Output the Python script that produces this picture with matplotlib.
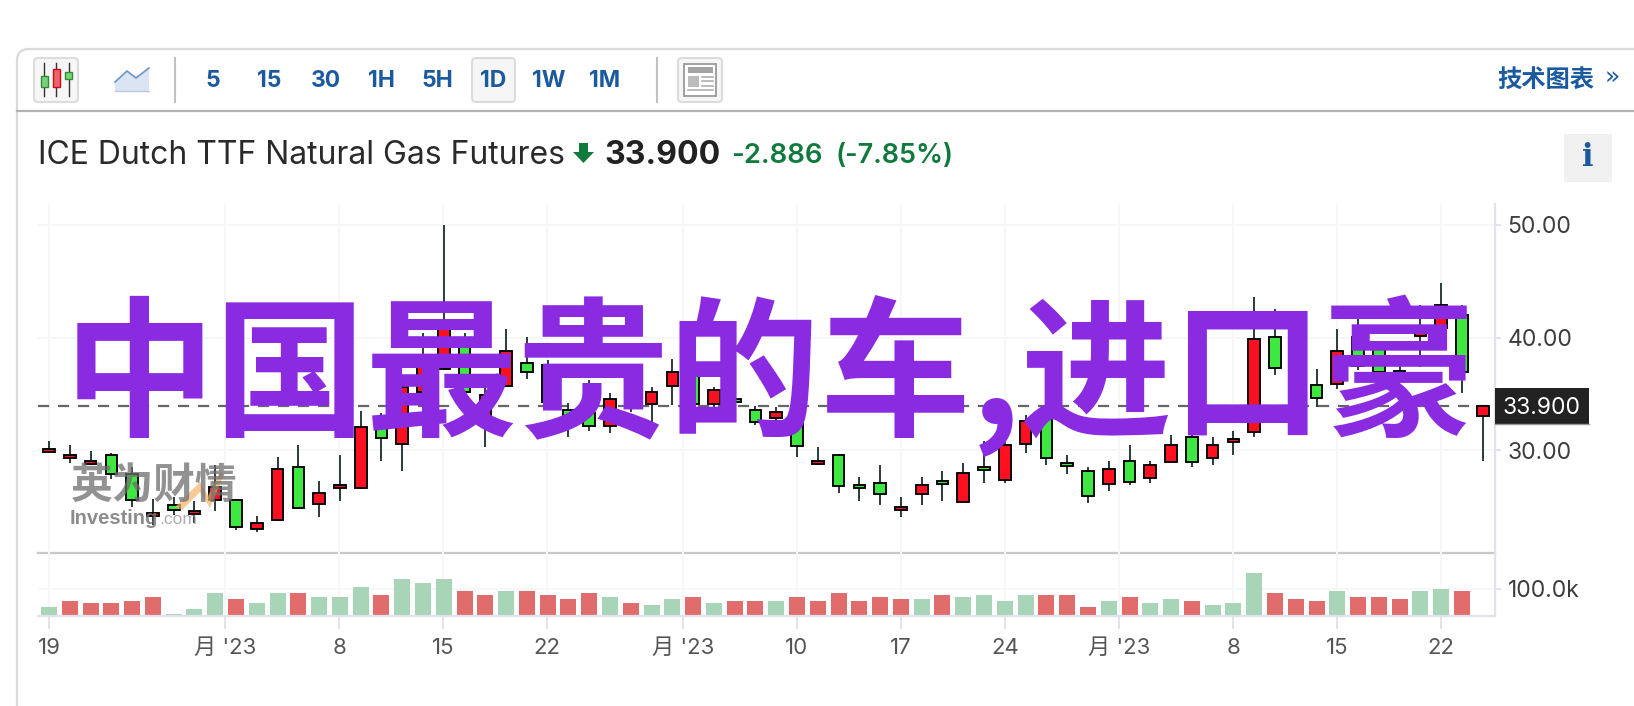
import matplotlib
matplotlib.use('Agg')
import matplotlib.pyplot as plt
from matplotlib.patches import FancyBboxPatch, Rectangle, Polygon

plt.rcParams['font.family'] = ['Inter', 'Noto Sans CJK SC', 'DejaVu Sans']

W, H = 1634, 706

# daily candles (red closes above open, green below)
highs = [30.83, 30.47, 29.94, 29.73, 28.52, 25.68, 25.86, 25.50, 28.70, 25.71,
         24.17, 29.41, 30.47, 27.28, 29.59, 33.49, 33.31, 36.69, 40.38, 50.00,
         40.38, 35.65, 40.77, 40.06, 38.02, 34.20, 36.24, 35.06, 35.65, 35.59,
         38.11, 37.72, 35.59, 34.76, 33.93, 33.82, 33.28, 30.27, 29.67, 27.60,
         28.67, 25.83, 27.60, 28.14, 28.85, 30.80, 31.51, 33.11, 33.28, 29.56,
         28.49, 29.02, 30.44, 29.02, 31.33, 31.51, 31.15, 31.69, 43.61, 42.54,
         39.79, 37.22, 40.77, 42.69, 39.50, 38.46, 42.90, 44.82, 42.90, 33.99]
lows = [29.73, 28.91, 28.67, 27.49, 25.00, 23.37, 24.26, 23.52, 24.64, 22.93,
        22.75, 23.76, 24.76, 24.11, 25.53, 26.54, 29.08, 28.20, 32.99, 37.13,
        34.76, 30.33, 35.59, 36.36, 34.17, 31.21, 31.75, 31.57, 33.40, 32.40,
        34.02, 34.02, 33.52, 34.11, 32.25, 32.46, 29.44, 28.67, 26.24, 25.53,
        25.18, 24.11, 25.18, 25.53, 25.30, 27.13, 27.13, 29.79, 28.73, 27.87,
        25.36, 26.42, 26.95, 27.13, 28.85, 28.55, 28.73, 29.62, 31.21, 36.72,
        35.06, 33.88, 35.47, 37.13, 36.83, 36.24, 37.43, 40.74, 35.12, 29.08]
opens = [29.82, 29.29, 28.76, 29.56, 27.93, 24.14, 25.12, 24.32, 25.56, 25.62,
         23.02, 23.85, 28.49, 25.21, 26.63, 26.63, 32.93, 30.53, 35.15, 37.22,
         39.20, 33.02, 35.68, 37.72, 37.54, 33.61, 33.28, 32.13, 33.73, 34.11,
         35.68, 37.54, 34.11, 34.53, 33.61, 32.84, 32.90, 28.76, 29.56, 26.89,
         27.07, 24.67, 26.09, 27.25, 25.38, 28.49, 27.34, 30.53, 32.75, 28.85,
         28.14, 26.98, 29.02, 27.51, 28.93, 31.15, 29.29, 30.71, 31.60, 40.03,
         38.22, 35.77, 35.86, 40.03, 38.96, 37.04, 40.12, 40.83, 41.98, 33.02]
closes = [30.09, 29.56, 29.02, 27.87, 25.56, 24.41, 24.67, 24.59, 26.72, 23.20,
          23.55, 28.31, 24.85, 26.18, 26.89, 32.04, 31.07, 35.65, 38.25, 40.83,
          35.15, 34.88, 38.79, 36.92, 34.26, 32.19, 32.13, 34.53, 35.21, 35.21,
          36.98, 34.11, 35.38, 34.26, 32.49, 33.43, 30.36, 29.02, 26.80, 26.63,
          26.09, 24.94, 26.89, 26.98, 27.96, 28.22, 30.44, 32.57, 29.29, 28.58,
          25.92, 28.31, 27.16, 28.67, 30.44, 28.93, 30.44, 30.98, 39.85, 37.28,
          36.09, 34.62, 38.79, 37.51, 36.92, 36.63, 40.53, 42.87, 36.92, 33.90]

# volume in thousands, one fewer than the candles
volumes = [33, 55, 48, 48, 55, 70, 8, 26, 84, 62, 48, 84, 84, 70, 70, 106, 77,
           135, 121, 135, 91, 77, 91, 91, 77, 62, 84, 70, 48, 40, 62, 70, 48,
           55, 55, 55, 70, 55, 84, 55, 70, 62, 62, 77, 70, 77, 55, 77, 77, 77,
           33, 55, 70, 48, 62, 55, 40, 48, 157, 84, 62, 55, 91, 70, 70, 62, 91,
           99, 91]
volume_up = [0, 1, 1, 1, 1, 1, 0, 0, 0, 1, 0, 0, 1, 0, 0, 0, 1, 0, 0, 0, 1, 1,
             0, 1, 1, 1, 1, 0, 1, 0, 0, 1, 0, 1, 1, 0, 1, 1, 1, 1, 1, 1, 0, 1,
             0, 0, 0, 0, 1, 1, 1, 0, 1, 0, 0, 1, 0, 0, 0, 1, 1, 1, 0, 1, 1, 1,
             0, 0, 1]

price_ticks = [30, 40, 50]
last_price = 33.9
date_ticks = [0, 8.47, 13.96, 18.96, 23.97, 30.5, 36, 41, 46, 51.5, 57, 62, 67]
date_labels = ['19', "月 '23", '8', '15', '22', "月 '23", '10', '17', '24',
               "月 '23", '8', '15', '22']
intervals = ['5', '15', '30', '1H', '5H', '1D', '1W', '1M']

BLUE = '#1c5aa0'
RED = '#ff1020'
GREEN = '#3fe840'
UP_VOL = '#e06c6c'
DOWN_VOL = '#a8d5b8'
GRID = '#f6f7f9'
AXIS = '#e0e3eb'


def px_axes(fig, zorder):
    # axes spanning the whole figure in image pixels, y going down
    ax = fig.add_axes([0, 0, 1, 1], zorder=zorder)
    ax.set_xlim(0, W)
    ax.set_ylim(H, 0)
    ax.axis('off')
    ax.patch.set_alpha(0)
    return ax


def sub_axes(fig, left, top, right, bottom):
    return fig.add_axes([left / W, 1 - bottom / H, (right - left) / W, (bottom - top) / H], zorder=1)


def draw_toolbar(bg):
    bg.add_patch(FancyBboxPatch((17, 49), W + 40, H + 40, boxstyle='round,pad=0,rounding_size=12',
                                fc='white', ec='#dadada', lw=1.6))
    bg.plot([17, W], [111, 111], color='#b2b2b2', lw=1.6)
    for x in [175, 657]:
        bg.plot([x, x], [58, 102], color='#c0c0c0', lw=1.5)

    # pressed buttons
    for x0, x1 in [(34, 78), (472, 515), (678, 722)]:
        bg.add_patch(FancyBboxPatch((x0, 58), x1 - x0, 44, boxstyle='round,pad=0,rounding_size=4',
                                    fc='#f6f6f6', ec='#dcdcdc', lw=1.5))

    # candle icon
    for x, y0, y1, c, e in [(44.5, 76, 87, '#7ed07e', '#2f8f2f'), (56.5, 69, 87, '#f0606a', '#c01020'),
                            (68.7, 72, 79, '#7ed07e', '#2f8f2f')]:
        bg.plot([x, x], [63, 96], color='#333333', lw=1)
        bg.add_patch(Rectangle((x - 3.5, y0), 7, y1 - y0, fc=c, ec=e, lw=1, zorder=3))

    # area icon
    bg.add_patch(Polygon([(115, 82), (127, 71), (136, 78), (149, 68), (149, 91), (115, 91)], fc='#dbe4f2', ec='none'))
    bg.plot([115, 127, 136, 149], [82, 71, 78, 68], color='#6f93c4', lw=1.2)
    bg.plot([115, 149], [91, 91], color='#b9c9e0', lw=1)

    # news icon
    bg.add_patch(Rectangle((684, 64), 32, 32, fc='white', ec='#9a9a9a', lw=1.3, zorder=3))
    bg.add_patch(Rectangle((688, 67), 25, 6, fc='#a4a4a4', ec='none', zorder=4))
    bg.add_patch(Rectangle((688, 76), 11, 11, fc='#bcbcbc', ec='none', zorder=4))
    for y in [77, 81, 86, 90]:
        x0 = 688 if y == 90 else 702
        bg.plot([x0, 713], [y, y], color='#b0b0b0', lw=1.2, zorder=4)

    for label, x in zip(intervals, [213, 269, 326, 381, 437, 493, 549, 605]):
        bg.text(x, 81, label, color=BLUE, fontsize=16.5, fontweight='bold', ha='center', va='center', zorder=5)

    bg.text(1546, 80, '技术图表', color=BLUE, fontsize=17.5, fontweight='bold', ha='center', va='center',
            family=['Noto Sans CJK SC'])
    bg.text(1612, 78, '»', color=BLUE, fontsize=18, ha='center', va='center', family=['DejaVu Sans'])


def draw_header(bg):
    bg.text(38, 156, 'ICE Dutch TTF Natural Gas Futures', color='#2a2a2a', fontsize=23, ha='left', va='center')
    bg.add_patch(Polygon([(579, 143), (588, 143), (588, 152), (594, 152), (583.5, 163), (573, 152), (579, 152)],
                         fc='#0f7a3c', ec='none'))
    bg.text(604, 156, '33.900', color='#222222', fontsize=23, fontweight='bold', ha='left', va='center')
    bg.text(731, 156, '-2.886', color='#0f7a3c', fontsize=19.8, fontweight='semibold', ha='left', va='center')
    bg.text(836, 156, '(-7.85%)', color='#0f7a3c', fontsize=19.4, fontweight='semibold', ha='left', va='center')
    bg.add_patch(Rectangle((1564, 134), 48, 48, fc='#f0f0f0', ec='none'))
    bg.text(1588, 158, 'i', color=BLUE, fontsize=22, fontweight='bold', ha='center', va='center',
            family=['DejaVu Serif'])


def style_axes(ax):
    ax.patch.set_alpha(0)
    for side in ['top', 'left']:
        ax.spines[side].set_visible(False)
    for side in ['right', 'bottom']:
        ax.spines[side].set_color(AXIS)
        ax.spines[side].set_linewidth(1.6)
    ax.set_axisbelow(True)
    ax.grid(True, color=GRID, lw=1.4)
    ax.yaxis.tick_right()
    ax.tick_params(axis='y', length=4, width=1.4, color=AXIS, labelcolor='#3d3d3d', labelsize=16.5, pad=5)


def draw_prices(ax):
    style_axes(ax)
    x = range(len(closes))
    ax.vlines(x, lows, highs, color='#2b3a3c', lw=1.4, zorder=2)
    bottoms = [min(o, c) for o, c in zip(opens, closes)]
    heights = [abs(c - o) for o, c in zip(opens, closes)]
    colors = [RED if c >= o else GREEN for o, c in zip(opens, closes)]
    ax.bar(x, heights, 0.56, bottom=bottoms, color=colors, edgecolor='black', linewidth=1.35, zorder=3)
    ax.axhline(last_price, color='#666666', lw=1.6, dashes=(5, 4), zorder=1)
    ax.set_xlim(-0.53, 69.59)
    ax.set_ylim(20.88, 51.86)
    ax.set_yticks(price_ticks, [f'{p:.2f}' for p in price_ticks])
    for lab in ax.get_yticklabels():
        lab.set_va('center_baseline')
    ax.set_xticks(date_ticks)
    ax.tick_params(axis='x', length=0, labelbottom=False)
    ax.spines['bottom'].set_visible(False)


def draw_volume(ax):
    style_axes(ax)
    colors = [UP_VOL if u else DOWN_VOL for u in volume_up]
    ax.bar(range(len(volumes)), volumes, 0.77, color=colors, zorder=2)
    ax.set_xlim(-0.53, 69.59)
    ax.set_ylim(0, 230)
    ax.set_yticks([100], ['100.0k'])
    for lab in ax.get_yticklabels():
        lab.set_va('center_baseline')
    ax.set_xticks(date_ticks, date_labels)
    ax.tick_params(axis='x', length=9, width=1.4, color=AXIS, labelcolor='#555555', labelsize=16, pad=7)
    for lab in ax.get_xticklabels():
        lab.set_fontfamily(['Inter', 'Noto Sans CJK SC'])


def draw_overlay(fg):
    # last price flag
    fg.add_patch(Rectangle((1495, 388), 94, 36, fc='#222222', ec='none'))
    fg.plot([1495, 1589], [424, 424], color='#999999', lw=1)
    fg.text(1542, 408, '33.900', color='white', fontsize=16.5, ha='center', va='center')

    # watermark
    fg.text(71, 486, '英为财情', color='#6e6e6e', alpha=0.75, fontsize=30, fontweight='bold', ha='left', va='center',
            family=['Noto Sans CJK SC'])
    fg.add_patch(Polygon([(175, 507), (200, 482), (208, 496), (220, 472), (224, 474), (210, 508), (200, 492), (182, 510)],
                         fc='#f6b26b', ec='none', alpha=0.7))
    fg.text(70, 519, 'Investing', color='#707070', alpha=0.8, fontsize=14.5, fontweight='bold', ha='left', va='center',
            family=['Liberation Sans'])
    fg.text(159, 520, '.com', color='#999999', alpha=0.8, fontsize=12.5, ha='left', va='center', family=['Liberation Sans'])

    fg.text(64, 425, '中国最贵的车,进口豪', color='#8a2be2', fontsize=109, fontweight='bold', ha='left', va='baseline',
            family=['Noto Sans CJK SC'])


def main():
    fig = plt.figure(figsize=(W / 100, H / 100), dpi=100, facecolor='white')
    bg = px_axes(fig, 0)
    draw_toolbar(bg)
    draw_header(bg)
    bg.plot([38, 1495], [553, 553], color='#c8c8c8', lw=1.6, zorder=4)

    draw_prices(sub_axes(fig, 38, 204, 1495, 553))
    draw_volume(sub_axes(fig, 38, 553, 1495, 616))
    draw_overlay(px_axes(fig, 2))

    fig.savefig('out.png', dpi=100)


if __name__ == '__main__':
    main()
